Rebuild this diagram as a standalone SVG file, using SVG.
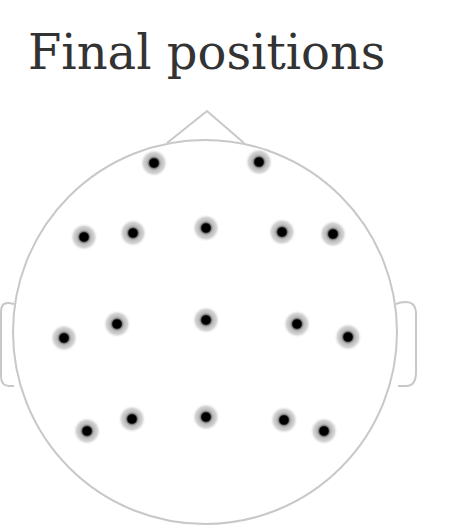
<svg xmlns="http://www.w3.org/2000/svg" width="454" height="531" viewBox="0 0 454 531">
<defs>
<radialGradient id="halo">
<stop offset="0" stop-color="#000"/>
<stop offset="0.3" stop-color="#000"/>
<stop offset="0.4" stop-color="#888"/>
<stop offset="0.5" stop-color="#bbb"/>
<stop offset="0.75" stop-color="#d4d4d4"/>
<stop offset="1" stop-color="#fff" stop-opacity="0"/>
</radialGradient>
</defs>
<style>
.head{fill:none;stroke:#c8c8c8;stroke-width:2}
.title{font-family:"DejaVu Serif",serif;font-size:48px;fill:#333}
</style>
<rect width="454" height="531" fill="#fff"/>
<text class="title" x="28" y="69">Final positions</text>
<g id="head">
<circle class="head" cx="205" cy="332" r="192"/>
<path class="head" d="M167,143 L207,111 L244,143"/>
<path class="head" d="M14,304 L9,303 Q1,302 1,312 L1,376 Q1,386 9,386 L14,386"/>
<path class="head" d="M396,304 Q400,302 406,302 Q415,302 416,312 L416,372 Q416,386 406,386 L398,386"/>
</g>
<g id="electrodes">
<circle cx="154" cy="163" r="14" fill="url(#halo)"/>
<circle cx="259" cy="162" r="14" fill="url(#halo)"/>
<circle cx="84" cy="237" r="14" fill="url(#halo)"/>
<circle cx="133" cy="233" r="14" fill="url(#halo)"/>
<circle cx="206" cy="228" r="14" fill="url(#halo)"/>
<circle cx="282" cy="232" r="14" fill="url(#halo)"/>
<circle cx="333" cy="234" r="14" fill="url(#halo)"/>
<circle cx="64" cy="338" r="14" fill="url(#halo)"/>
<circle cx="117" cy="324" r="14" fill="url(#halo)"/>
<circle cx="206" cy="320" r="14" fill="url(#halo)"/>
<circle cx="297" cy="324" r="14" fill="url(#halo)"/>
<circle cx="348" cy="337" r="14" fill="url(#halo)"/>
<circle cx="87" cy="431" r="14" fill="url(#halo)"/>
<circle cx="132" cy="419" r="14" fill="url(#halo)"/>
<circle cx="206" cy="417" r="14" fill="url(#halo)"/>
<circle cx="284" cy="420" r="14" fill="url(#halo)"/>
<circle cx="324" cy="431" r="14" fill="url(#halo)"/>
</g>
</svg>
